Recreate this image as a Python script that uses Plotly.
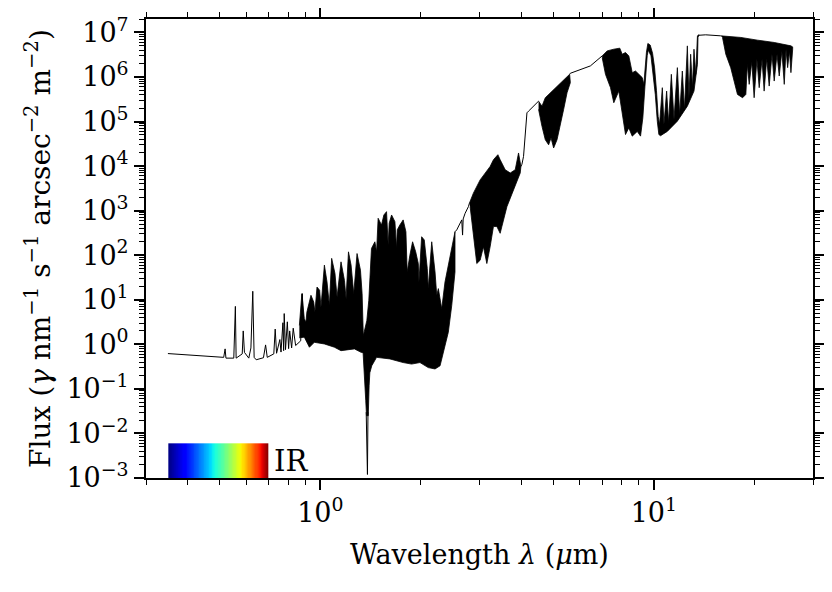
import numpy as np
import plotly.graph_objects as go

# Model spectrum.
# Wavelength in micron, flux in photons nm^-1 s^-1 arcsec^-2 m^-2.

# thin-line stretches of the spectrum
VIS_WL = [0.349, 0.513, 0.518, 0.521, 0.550, 0.556, 0.559, 0.583, 0.587, 0.592,
          0.610, 0.619, 0.627, 0.633, 0.642, 0.675, 0.685, 0.693, 0.725, 0.732,
          0.739, 0.756, 0.762, 0.772, 0.776, 0.779, 0.786, 0.796, 0.803, 0.809,
          0.820, 0.829, 0.843, 0.873, 0.883, 0.890]
VIS_FLUX = [0.62, 0.51, 0.79, 0.49, 0.49, 7.1, 0.49, 0.61, 2.0, 0.66,
            0.49, 0.83, 15.5, 0.51, 0.45, 0.50, 0.97, 0.51, 0.61, 2.2,
            0.63, 1.28, 0.67, 3.05, 0.72, 4.9, 0.76, 3.2, 0.80, 2.0,
            0.83, 2.3, 0.94, 1.2, 13.7, 2.0]

DIP_WL = [1.372, 1.384, 1.389]
DIP_FLUX = [0.03, 1.2e-3, 0.03]

RISE_WL = [2.533, 2.564, 2.654, 2.669, 2.68, 2.716, 2.779, 2.798]
RISE_FLUX = [336, 370, 620, 283, 650, 870, 1.23e3, 1.47e3]

EDGE_WL = [3.993, 4.021, 4.066, 4.163, 4.209, 4.461, 4.511]
EDGE_FLUX = [9.8e3, 1.1e4, 1.65e4, 1.57e5, 1.71e5, 2.64e5, 2.87e5]

GAP_WL = [5.590, 5.617, 6.451, 6.997]
GAP_FLUX = [1.15e6, 1.21e6, 1.77e6, 2.97e6]

PLATEAU_WL = [13.56, 14.30, 15.87]
PLATEAU_FLUX = [8.6e6, 8.83e6, 8.38e6]

# dense line forests: upper and lower envelopes
NIR_TOP_WL = [0.865, 0.880, 0.895, 0.905, 0.911, 0.937, 0.955, 0.963, 0.977, 0.995,
              1.004, 1.028, 1.047, 1.064, 1.081, 1.106, 1.122, 1.153, 1.181, 1.194,
              1.214, 1.236, 1.259, 1.288, 1.319, 1.334, 1.345, 1.378, 1.397, 1.423,
              1.457, 1.474, 1.490, 1.525, 1.550, 1.579, 1.597, 1.608, 1.635, 1.673,
              1.692, 1.700, 1.731, 1.771, 1.805, 1.821, 1.855, 1.890, 1.931, 1.966,
              1.975, 2.012, 2.049, 2.092, 2.106, 2.157, 2.207, 2.233, 2.258, 2.311,
              2.364, 2.448, 2.533]
NIR_TOP_FLUX = [2.65, 13.7, 3.75, 3.14, 5.3, 12.6, 8.9, 5.3, 19.3, 16.3,
                6.8, 60, 25, 7.5, 85, 39, 11.5, 71, 27, 10.6,
                119, 60, 13.7, 109, 46, 13.7, 1.57, 3.4, 9.7, 142,
                200, 119, 675, 476, 800, 950, 169, 520, 800, 565,
                142, 370, 476, 620, 336, 42, 100, 200, 119, 65,
                25, 260, 220, 50, 17.8, 200, 42, 12.6, 17.8, 6.3,
                25, 100, 336]
NIR_BOTTOM_WL = [0.865, 0.895, 0.927, 0.959, 1.028, 1.102, 1.153, 1.265, 1.325, 1.343,
                 1.356, 1.368, 1.375, 1.392, 1.400, 1.407, 1.426, 1.474, 1.616, 1.771,
                 1.877, 1.989, 2.106, 2.207, 2.285, 2.364, 2.419, 2.477, 2.533]
NIR_BOTTOM_FLUX = [1.4, 1.45, 0.86, 1.11, 1.02, 0.86, 0.72, 0.79, 0.66, 0.65,
                   0.26, 0.054, 0.025, 0.025, 0.117, 0.23, 0.33, 0.51, 0.47, 0.39,
                   0.36, 0.39, 0.30, 0.28, 0.33, 0.94, 1.87, 7.5, 42]

B3_TOP_WL = [2.798, 2.876, 3.013, 3.119, 3.228, 3.303, 3.406, 3.460, 3.582, 3.709,
             3.839, 3.928, 3.993]
B3_TOP_FLUX = [1.47e3, 2.47e3, 4.9e3, 7.0e3, 9.8e3, 1.39e4, 1.8e4, 1.39e4, 8.3e3, 7.0e3,
               8.3e3, 1.97e4, 9.8e3]
B3_BOTTOM_WL = [2.812, 2.876, 2.944, 3.013, 3.083, 3.156, 3.228, 3.303, 3.382, 3.460,
                3.501, 3.625, 3.753, 3.866, 3.974]
B3_BOTTOM_FLUX = [1.23e3, 310, 65, 77, 154, 65, 154, 440, 440, 310,
                  440, 1.23e3, 2.47e3, 4.15e3, 7.0e3]

B5_TOP_WL = [4.511, 4.618, 4.725, 4.892, 5.065, 5.243, 5.427, 5.590]
B5_TOP_FLUX = [2.87e5, 2.21e5, 3.42e5, 4.44e5, 5.75e5, 7.46e5, 9.67e5, 1.15e6]
B5_BOTTOM_WL = [4.511, 4.618, 4.725, 4.835, 4.916, 5.005, 5.124, 5.243, 5.363, 5.491,
                5.617]
B5_BOTTOM_FLUX = [1.87e5, 7.8e4, 3.9e4, 3.0e4, 4.3e4, 2.55e4, 3.9e4, 7.8e4, 1.87e5, 4.44e5,
                  7.46e5]

MIR_TOP_WL = [6.997, 7.244, 7.583, 7.903, 8.035, 8.221, 8.411, 8.612, 8.810, 9.014,
              9.228, 9.331, 9.40, 9.50, 9.592, 9.75, 9.91, 10.05, 10.18, 10.30,
              10.40, 10.60, 10.72, 10.92, 11.07, 11.28, 11.49, 11.76, 11.95, 12.17,
              12.35, 12.60, 12.74, 12.89, 13.05, 13.19, 13.35, 13.51, 13.66]
MIR_TOP_FLUX = [2.97e6, 3.85e6, 4.20e6, 4.43e6, 3.24e6, 3.54e6, 2.97e6, 1.25e6, 1.36e6, 1.15e6,
                9.67e5, 6.83e5, 1.4e6, 3.6e6, 5.65e6, 5.2e6, 3.4e6, 1.6e6, 5.0e5, 1.3e5,
                8.6e4, 5.75e5, 8.6e4, 4.82e5, 9.4e4, 1.15e6, 1.11e5, 1.62e6, 1.44e5, 1.36e6,
                1.87e5, 4.99e6, 3.42e5, 3.24e6, 5.75e5, 4.20e6, 1.15e6, 8.38e6, 8.83e6]
MIR_BOTTOM_WL = [6.997, 7.159, 7.412, 7.583, 7.849, 8.035, 8.221, 8.411, 8.612, 8.915,
                 9.120, 9.266, 9.40, 9.55, 9.62, 9.80, 9.95, 10.10, 10.24, 10.35,
                 10.47, 10.97, 11.76, 12.60, 13.19, 13.51, 13.56]
MIR_BOTTOM_FLUX = [2.73e6, 1.15e6, 5.75e5, 2.64e5, 4.82e5, 1.71e5, 5.1e4, 7.2e4, 4.7e4, 6.0e4,
                   4.7e4, 1.21e5, 6.0e5, 3.0e6, 4.0e6, 3.0e6, 1.3e6, 4.0e5, 1.0e5, 5.1e4,
                   4.8e4, 6.0e4, 1.02e5, 2.21e5, 4.82e5, 1.93e6, 7.71e6]

FIR_TOP_WL = [15.87, 18.23, 20.46, 22.95, 25.76, 26.07]
FIR_TOP_FLUX = [8.38e6, 7.71e6, 6.70e6, 5.95e6, 4.99e6, 4.73e6]
FIR_BOTTOM_WL = [16.06, 16.43, 17.00, 17.40, 17.81, 18.45, 18.87, 19.06, 19.31, 19.66,
                 19.98, 20.37, 20.69, 21.1, 21.41, 21.8, 22.17, 22.6, 22.95, 23.4,
                 23.76, 24.2, 24.60, 24.9, 25.18, 25.5, 25.76, 26.07]
FIR_BOTTOM_FLUX = [7.71e6, 3.24e6, 1.62e6, 8.1e5, 4.06e5, 3.42e5, 4.06e5, 1.93e6, 6.83e5, 2.2e6,
                   3.42e5, 2.5e6, 5.75e5, 2.5e6, 4.82e5, 2.6e6, 6.25e5, 3.24e6, 8.1e5, 3.24e6,
                   1.05e6, 3.8e6, 6.83e5, 4.2e6, 1.62e6, 3.8e6, 1.25e6, 4.2e6]

# visible band shown as a rainbow strip
VISIBLE_RANGE = [0.35, 0.70]

X_TICKS = [1, 10]
X_TICK_TEXT = ['10<sup>0</sup>', '10<sup>1</sup>']
Y_TICKS = [1e-3, 1e-2, 1e-1, 1e0, 1e1, 1e2, 1e3, 1e4, 1e5, 1e6, 1e7]
Y_TICK_TEXT = ['10<sup>−3</sup>', '10<sup>−2</sup>', '10<sup>−1</sup>', '10<sup>0</sup>',
               '10<sup>1</sup>', '10<sup>2</sup>', '10<sup>3</sup>', '10<sup>4</sup>',
               '10<sup>5</sup>', '10<sup>6</sup>', '10<sup>7</sup>']

JET = [
    [0.0, 'rgb(0,0,128)'], [0.11, 'rgb(0,0,255)'], [0.125, 'rgb(0,0,255)'],
    [0.34, 'rgb(0,219,255)'], [0.375, 'rgb(21,255,226)'], [0.64, 'rgb(239,255,8)'],
    [0.66, 'rgb(255,236,0)'], [0.89, 'rgb(255,19,0)'], [0.91, 'rgb(232,0,0)'],
    [1.0, 'rgb(128,0,0)'],
]

FONT = 'DejaVu Serif'


def minor_values(lo, hi):
    return [m * 10.0 ** e for e in range(lo, hi) for m in range(2, 10)]


def main() -> None:
    fig = go.Figure()

    edges = np.linspace(VISIBLE_RANGE[0], VISIBLE_RANGE[1], 71)
    centers = 0.5 * (edges[:-1] + edges[1:])
    fig.add_trace(go.Heatmap(
        x=edges, y=[1e-3, 6e-3], z=[centers],
        colorscale=JET, zmin=VISIBLE_RANGE[0], zmax=VISIBLE_RANGE[1],
        showscale=False, hoverinfo='skip',
    ))

    bands = [
        (NIR_TOP_WL, NIR_TOP_FLUX, NIR_BOTTOM_WL, NIR_BOTTOM_FLUX),
        (B3_TOP_WL, B3_TOP_FLUX, B3_BOTTOM_WL, B3_BOTTOM_FLUX),
        (B5_TOP_WL, B5_TOP_FLUX, B5_BOTTOM_WL, B5_BOTTOM_FLUX),
        (MIR_TOP_WL, MIR_TOP_FLUX, MIR_BOTTOM_WL, MIR_BOTTOM_FLUX),
        (FIR_TOP_WL, FIR_TOP_FLUX, FIR_BOTTOM_WL, FIR_BOTTOM_FLUX),
    ]
    for top_wl, top_flux, bot_wl, bot_flux in bands:
        fig.add_trace(go.Scatter(
            x=list(top_wl) + list(bot_wl)[::-1],
            y=list(top_flux) + list(bot_flux)[::-1],
            mode='lines', fill='toself', fillcolor='black',
            line=dict(color='black', width=0.8), hoverinfo='skip',
        ))

    segments = [
        (VIS_WL, VIS_FLUX), (DIP_WL, DIP_FLUX), (RISE_WL, RISE_FLUX),
        (EDGE_WL, EDGE_FLUX), (GAP_WL, GAP_FLUX), (PLATEAU_WL, PLATEAU_FLUX),
    ]
    for wl, flux in segments:
        fig.add_trace(go.Scatter(
            x=wl, y=flux, mode='lines',
            line=dict(color='black', width=1), hoverinfo='skip',
        ))

    axis_common = dict(
        type='log', showgrid=False, zeroline=False,
        showline=True, linecolor='black', linewidth=2, mirror='ticks',
        ticks='outside', ticklen=10, tickwidth=1.5, tickcolor='black',
        tickmode='array', tickfont=dict(family=FONT, size=27, color='black'),
        automargin=False,
    )
    fig.update_xaxes(
        **axis_common,
        range=[np.log10(0.3), np.log10(30)],
        tickvals=X_TICKS, ticktext=X_TICK_TEXT,
        minor=dict(tickmode='array', tickvals=minor_values(-1, 2), ticks='outside',
                   ticklen=5, tickwidth=1.2, tickcolor='black'),
        title=dict(text='Wavelength <i>λ</i> (<i>μ</i>m)', standoff=18,
                   font=dict(family=FONT, size=27, color='black')),
    )
    fig.update_yaxes(
        **axis_common,
        range=[-3, np.log10(2e7)],
        tickvals=Y_TICKS, ticktext=Y_TICK_TEXT,
        minor=dict(tickmode='array', tickvals=minor_values(-3, 8), ticks='outside',
                   ticklen=5, tickwidth=1.2, tickcolor='black'),
        title=dict(text='Flux (<i>γ</i> nm<sup>−1</sup> s<sup>−1</sup> arcsec<sup>−2</sup> m<sup>−2</sup>)',
                   standoff=8, font=dict(family=FONT, size=28, color='black')),
    )

    fig.add_annotation(
        x=np.log10(0.715), y=np.log10(2.4e-3), xref='x', yref='y',
        text='IR', showarrow=False, xanchor='left', yanchor='middle',
        font=dict(family=FONT, size=29, color='black'),
    )

    # the page body adds an 8 px offset, so the margins are shifted to compensate
    fig.update_layout(
        width=832, height=592,
        margin=dict(l=138, r=27, t=11, b=122),
        paper_bgcolor='white', plot_bgcolor='white',
        showlegend=False,
    )
    fig.write_html('out.html')


if __name__ == '__main__':
    main()
